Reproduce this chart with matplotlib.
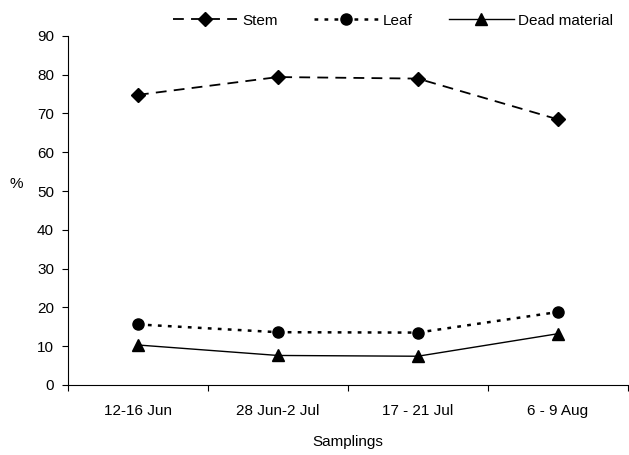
import matplotlib
matplotlib.use("Agg")
import matplotlib.pyplot as plt
import numpy as np

plt.rcParams['font.family'] = ['Liberation Sans', 'DejaVu Sans']

categories = ["12-16 Jun", "28 Jun-2 Jul", "17 - 21 Jul", "6 - 9 Aug"]
stem = [74.8, 79.4, 79.0, 68.5]
leaf = [15.6, 13.6, 13.5, 18.8]
dead = [10.3, 7.6, 7.4, 13.2]

fig = plt.figure(figsize=(6.29, 4.55), dpi=100)
ax = fig.add_axes([0.108, 0.154, 0.890, 0.767])

x = np.arange(len(categories))
ax.plot(x, stem, color='black', linestyle=(0, (6, 4)), linewidth=1.3,
        marker='D', markersize=7, label='Stem')
ax.plot(x, leaf, color='black', linestyle=(0, (1.5, 2.5)), linewidth=1.8,
        marker='o', markersize=8, label='Leaf')
ax.plot(x, dead, color='black', linestyle='-', linewidth=1.0,
        marker='^', markersize=8, label='Dead material')

ax.set_xlim(-0.5, len(categories) - 0.5)
ax.set_ylim(0, 90)
ax.set_yticks(np.arange(0, 91, 10))
ax.set_xticks(np.arange(-0.5, len(categories), 1.0))
ax.set_xticklabels([])
ax.set_xticks(x, minor=True)
ax.set_xticklabels(categories, minor=True)
ax.tick_params(axis='x', which='minor', length=0, pad=14, labelsize=11)
ax.tick_params(axis='x', which='major', direction='out', length=4)
ax.tick_params(axis='y', direction='out', length=4, labelsize=11, pad=6)

for s in ['top', 'right']:
    ax.spines[s].set_visible(False)

ax.set_xlabel('Samplings', fontsize=11, labelpad=12)
ax.set_ylabel('%', fontsize=11, rotation=0)
ax.yaxis.set_label_coords(-0.093, 0.555)

fig.legend(loc='upper center', bbox_to_anchor=(0.625, 1.0), ncol=3,
           frameon=False, fontsize=11, handlelength=4.2, columnspacing=2.4,
           handletextpad=0.3)

fig.savefig('out.png', dpi=100)
